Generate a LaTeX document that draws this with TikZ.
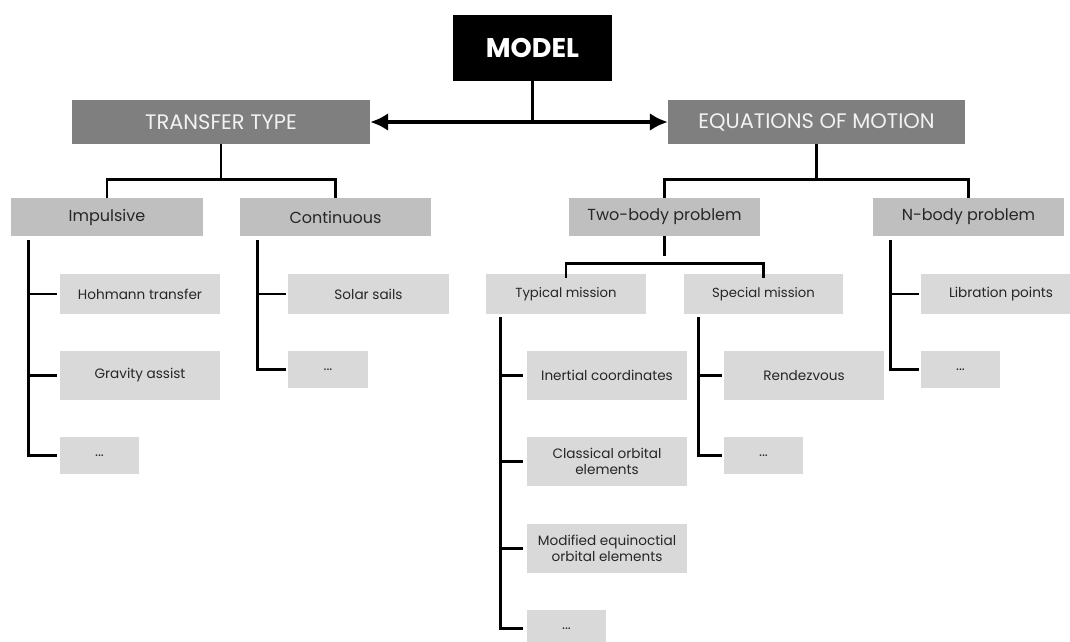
\documentclass[tikz,border=0pt]{standalone}
\usepackage{fontspec}
\setmainfont{Poppins}
\usetikzlibrary{arrows.meta,calc}
\definecolor{topgray}{HTML}{7F7F7F}
\definecolor{midgray}{HTML}{BFBFBF}
\definecolor{leafgray}{HTML}{D9D9D9}
\definecolor{txt}{HTML}{262626}
\tikzset{
  box/.style={rectangle, inner sep=0pt, align=center},
  modelbox/.style={box, fill=black, text=white, font=\fontsize{27}{30}\selectfont\bfseries, minimum width=159pt, minimum height=66pt},
  topbox/.style={box, fill=topgray, text=white!95!black, font=\fontsize{21}{24}\selectfont, minimum width=298pt, minimum height=44pt},
  midbox/.style={box, fill=midgray, text=txt, font=\fontsize{16}{19}\selectfont, minimum width=192pt, minimum height=38pt},
  subbox/.style={box, fill=leafgray, text=txt, font=\fontsize{13.2}{15}\selectfont, minimum width=160pt, minimum height=40pt},
  leafbox/.style={box, fill=leafgray, text=txt, font=\fontsize{13.6}{15.5}\selectfont, minimum width=160pt, minimum height=49pt},
  dotbox/.style={box, fill=leafgray, text=txt, font=\fontsize{14}{16}\selectfont, minimum width=79pt, minimum height=37pt},
  conn/.style={draw=black, line width=2.8pt},
}
\begin{document}
\begin{tikzpicture}[x=1pt,y=-1pt]
\useasboundingbox (0,0) rectangle (1070,641);
\clip (0,0) rectangle (1070,641);
% nodes
\node[modelbox] (model) at (532.5,48) {MODEL};
\node[topbox] (tt) at (221,122) {TRANSFER TYPE};
\node[topbox, minimum width=297pt] (eom) at (816.5,122) {EQUATIONS OF MOTION};
\node[midbox] (imp) at (107,217) {Impulsive};
\node[midbox, minimum width=191pt] (cont) at (335.5,217) {Continuous};
\node[midbox, minimum width=191pt] (two) at (664.5,217) {Two-body problem};
\node[midbox, minimum width=191pt] (nbody) at (968.5,217) {N-body problem};
\node[subbox, font=\fontsize{13.6}{15.5}\selectfont] (hoh) at (140,294) {Hohmann transfer};
\node[leafbox] (grav) at (140,375.5) {Gravity assist};
\node[dotbox] (idots) at (99.5,455.5) {...};
\node[subbox, minimum width=161pt, font=\fontsize{13.6}{15.5}\selectfont] (solar) at (368.5,294) {Solar sails};
\node[dotbox, minimum width=80pt] (cdots) at (328,369.5) {...};
\node[subbox] (typ) at (566,294) {Typical mission};
\node[subbox, minimum width=159pt] (spec) at (763.5,294) {Special mission};
\node[leafbox] (inert) at (607,375.5) {Inertial coordinates};
\node[leafbox] (class) at (607,461.5) {Classical orbital\\elements};
\node[leafbox] (mod) at (607,548.5) {Modified equinoctial\\orbital elements};
\node[dotbox] (tdots) at (566.5,628.5) {...};
\node[leafbox] (rend) at (804,375.5) {Rendezvous};
\node[dotbox] (sdots) at (763.5,455.5) {...};
\node[subbox, font=\fontsize{13.6}{15.5}\selectfont] (lib) at (1001,294) {Libration points};
\node[dotbox] (ndots) at (960.5,369.5) {...};
% top connectors
\coordinate (mid) at (model.south |- tt.east);
\draw[conn] (model.south) -- (mid);
\draw[line width=4pt, {Latex[length=18pt,width=18pt]}-{Latex[length=18pt,width=18pt]}] (tt.east) -- (eom.west);
% transfer type
\draw[conn] (tt.south) -- ++(0,36);
\draw[conn] (imp.north) -- ++(0,-18) -| (cont.north);
% equations of motion
\draw[conn] (eom.south) -- ++(0,36);
\draw[conn] (two.north) -- ++(0,-18) -| (nbody.north);
% two-body
\draw[conn] (two.south) -- ++(0,20);
\draw[conn] ([yshift=-4pt]typ.north) -- ++(0,-14) -| ([yshift=-4pt]spec.north);
% impulsive leaves
\coordinate (ia) at ([xshift=18pt,yshift=-4pt]imp.south west);
\draw[conn] (ia) |- ([xshift=-3pt]idots.west);
\draw[conn] (ia |- hoh.west) -- ([xshift=-3pt]hoh.west);
\draw[conn] (ia |- grav.west) -- ([xshift=-3pt]grav.west);
% continuous leaves
\coordinate (ca) at ([xshift=18pt,yshift=-4pt]cont.south west);
\draw[conn] (ca) |- ([xshift=-2pt]cdots.west);
\draw[conn] (ca |- solar.west) -- ([xshift=-2pt]solar.west);
% typical leaves
\coordinate (ta) at ([xshift=15pt,yshift=-3pt]typ.south west);
\draw[conn] (ta) |- ([xshift=-4pt]tdots.west);
\draw[conn] (ta |- inert.west) -- ([xshift=-4pt]inert.west);
\draw[conn] (ta |- class.west) -- ([xshift=-4pt]class.west);
\draw[conn] (ta |- mod.west) -- ([xshift=-4pt]mod.west);
% special leaves
\coordinate (sa) at ([xshift=15pt,yshift=-3pt]spec.south west);
\draw[conn] (sa) |- ([xshift=-2pt]sdots.west);
\draw[conn] (sa |- rend.west) -- ([xshift=-2pt]rend.west);
% n-body leaves
\coordinate (na) at ([xshift=18pt,yshift=-4pt]nbody.south west);
\draw[conn] (na) |- ([xshift=-2pt]ndots.west);
\draw[conn] (na |- lib.west) -- ([xshift=-2pt]lib.west);
\end{tikzpicture}
\end{document}
